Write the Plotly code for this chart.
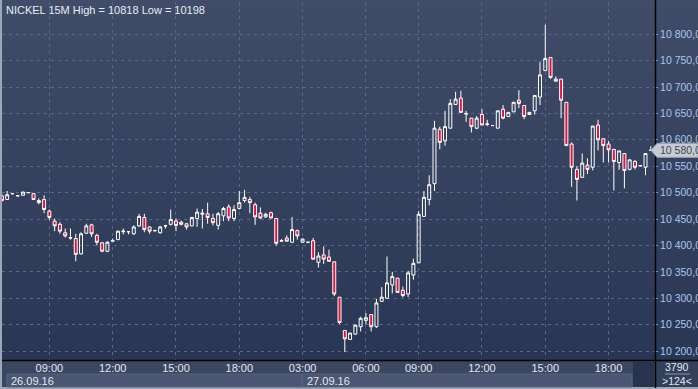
import plotly.graph_objects as go

# ---- data ----
opens = [10494,10487,10498,10494,10495,10500,10498,10485,10487,10465,
         10446,10440,10424,10415,10413,10384,10423,10439,10419,10405,
         10389,10408,10411,10426,10426,10422,10437,10453,10435,10428,
         10424,10437,10440,10446,10444,10441,10437,10451,10459,10460,
         10451,10438,10456,10473,10451,10470,10485,10487,10477,10461,
         10454,10462,10451,10408,10414,10406,10428,10406,10406,10409,
         10368,10382,10378,10369,10302,10239,10222,10232,10246,10258,
         10269,10246,10294,10300,10325,10338,10315,10308,10344,10367,
         10455,10487,10517,10620,10598,10622,10667,10679,10650,10641,
         10622,10648,10629,10627,10622,10658,10644,10653,10675,10665,
         10648,10655,10681,10731,10756,10715,10715,10671,10592,10544,
         10529,10552,10548,10628,10602,10592,10582,10557,10574,10544,
         10559,10551,10548,10580]
highs = [10496,10503,10499,10495,10502,10501,10499,10489,10495,10468,
         10451,10444,10432,10432,10422,10425,10441,10441,10422,10406,
         10408,10413,10428,10432,10427,10438,10460,10460,10436,10430,
         10437,10439,10468,10451,10447,10442,10454,10470,10469,10481,
         10460,10463,10473,10478,10476,10503,10505,10492,10481,10472,
         10462,10464,10451,10412,10419,10454,10430,10413,10407,10414,
         10387,10398,10392,10369,10302,10239,10234,10250,10265,10272,
         10269,10299,10321,10379,10350,10338,10322,10352,10375,10465,
         10503,10533,10636,10625,10655,10677,10691,10693,10655,10641,
         10645,10658,10638,10628,10655,10666,10652,10672,10694,10666,
         10652,10684,10748,10818,10756,10720,10715,10671,10595,10550,
         10574,10565,10626,10638,10602,10598,10582,10579,10574,10563,
         10562,10552,10574,10588]
lows = [10483,10487,10497,10493,10495,10499,10487,10478,10461,10448,
        10427,10422,10415,10411,10370,10383,10422,10416,10400,10387,
        10387,10408,10411,10421,10421,10420,10435,10425,10422,10426,
        10422,10432,10438,10427,10438,10430,10436,10435,10432,10441,
        10438,10430,10446,10446,10446,10468,10481,10461,10439,10450,
        10452,10451,10400,10407,10408,10405,10411,10405,10404,10373,
        10358,10365,10370,10304,10251,10198,10222,10231,10237,10251,
        10237,10244,10294,10299,10309,10311,10302,10302,10335,10367,
        10454,10476,10503,10582,10589,10622,10667,10652,10634,10614,
        10620,10628,10626,10626,10622,10639,10644,10653,10660,10639,
        10648,10648,10666,10731,10715,10711,10641,10589,10511,10485,
        10529,10535,10542,10580,10557,10557,10504,10543,10508,10542,
        10544,10550,10533,10580]
closes = [10485,10496,10498,10494,10501,10500,10487,10481,10468,10453,
          10437,10427,10418,10414,10383,10422,10437,10422,10406,10389,
          10406,10409,10427,10427,10426,10435,10455,10430,10427,10428,
          10435,10437,10449,10438,10440,10435,10453,10463,10461,10453,
          10443,10460,10470,10452,10468,10481,10491,10481,10454,10452,
          10459,10452,10404,10409,10408,10430,10418,10412,10406,10374,
          10380,10374,10370,10308,10254,10223,10234,10249,10262,10263,
          10246,10291,10302,10329,10341,10311,10305,10348,10366,10459,
          10491,10515,10622,10595,10625,10669,10677,10652,10649,10625,
          10641,10628,10630,10627,10655,10641,10652,10671,10669,10644,
          10652,10684,10723,10754,10718,10711,10675,10589,10548,10525,
          10556,10544,10626,10600,10589,10581,10559,10579,10542,10562,
          10548,10551,10574,10580]
bar_index = list(range(len(opens)))

time_tick_index = [9, 21, 33, 45, 57, 69, 79, 91, 103, 115]
time_tick_labels = ["09:00", "12:00", "15:00", "18:00", "03:00",
                    "06:00", "09:00", "12:00", "15:00", "18:00"]
date_labels = ["26.09.16", "27.09.16"]
price_ticks = list(range(10200, 10801, 50))
price_tick_labels = ["10 %03d,00" % (v - 10000) for v in price_ticks]
title_text = "NICKEL 15M High = 10818 Low = 10198"
last_price_label = "10 580,00"
last_price = 10580
corner_top = "3790"
corner_bottom = ">124<"

# ---- geometry helpers (pixels -> paper) ----
W, H = 698, 389
ML, MR, MT, MB = 2, 43, 2, 29
PW, PH = W - ML - MR, H - MT - MB
Y_LO, Y_HI = 10183, 10861


def px(x):
    return (x - ML) / PW


def py(y):
    return (H - MB - y) / PH


def price_to_py(p):
    return MT + (Y_HI - p) / (Y_HI - Y_LO) * PH


FONT = "Liberation Sans, Arial, sans-serif"

fig = go.Figure()
fig.add_trace(go.Candlestick(
    x=bar_index, open=opens, high=highs, low=lows, close=closes,
    increasing=dict(line=dict(color="#ffffff", width=1), fillcolor="rgba(0,0,0,0)"),
    decreasing=dict(line=dict(color="#ffffff", width=1), fillcolor="#e5103a"),
    whiskerwidth=0, hoverinfo="skip", showlegend=False,
))

shapes = []
# vertical gradient background (plot + right axis panel)
N = 40
top = (64, 76, 104)
bot = (42, 55, 84)
for k in range(N):
    y0 = k * 360 / N
    y1 = (k + 1) * 360 / N
    t = (k + 0.5) / N
    c = tuple(round(top[i] + (bot[i] - top[i]) * t) for i in range(3))
    shapes.append(dict(type="rect", xref="paper", yref="paper",
                       x0=px(2), x1=px(W), y0=py(y1), y1=py(y0 - 0.5),
                       fillcolor="rgb(%d,%d,%d)" % c, line=dict(width=0), layer="below"))
# bottom strip
shapes.append(dict(type="rect", xref="paper", yref="paper", x0=px(2), x1=px(655),
                   y0=py(387), y1=py(360), fillcolor="#3b4761", line=dict(width=0), layer="below"))
shapes.append(dict(type="rect", xref="paper", yref="paper", x0=px(7), x1=px(632),
                   y0=py(387), y1=py(374), fillcolor="#4a5672",
                   line=dict(color="#56637e", width=1), layer="below"))
shapes.append(dict(type="line", xref="paper", yref="paper", x0=px(302), x1=px(302),
                   y0=py(387), y1=py(374), line=dict(color="#5e6b86", width=1), layer="below"))
shapes.append(dict(type="rect", xref="paper", yref="paper", x0=px(633), x1=px(654),
                   y0=py(387), y1=py(362), fillcolor="#28344e", line=dict(width=0), layer="below"))
shapes.append(dict(type="rect", xref="paper", yref="paper", x0=px(655), x1=px(W),
                   y0=py(387), y1=py(360), fillcolor="#34405a", line=dict(width=0), layer="below"))
shapes.append(dict(type="line", xref="paper", yref="paper", x0=px(665), x1=px(690),
                   y0=py(374), y1=py(374), line=dict(color="#8a96aa", width=1), layer="below"))
# black frame lines
shapes.append(dict(type="line", xref="paper", yref="paper", x0=px(2), x1=px(W),
                   y0=py(360.5), y1=py(360.5), line=dict(color="#000000", width=1.5)))
shapes.append(dict(type="line", xref="paper", yref="paper", x0=px(655.5), x1=px(655.5),
                   y0=py(388), y1=py(0), line=dict(color="#000000", width=1.5)))
# last-price marker (arrow-shaped tag)
ym = price_to_py(last_price)
path = "M %f,%f L %f,%f L %f,%f L %f,%f L %f,%f Z" % (
    px(651), py(ym), px(657), py(ym - 7), px(W), py(ym - 7),
    px(W), py(ym + 7), px(657), py(ym + 7))
shapes.append(dict(type="path", xref="paper", yref="paper", path=path,
                   fillcolor="#c6cad1", line=dict(color="#9aa0aa", width=1)))

annotations = [
    dict(text=title_text, xref="paper", yref="paper", x=px(4), y=py(2),
         xanchor="left", yanchor="top", showarrow=False,
         font=dict(family=FONT, size=11, color="#e8edf5")),
    dict(text=date_labels[0], xref="paper", yref="paper", x=px(9), y=py(381),
         xanchor="left", yanchor="middle", showarrow=False,
         font=dict(family=FONT, size=11, color="#e2e8f2")),
    dict(text=date_labels[1], xref="paper", yref="paper", x=px(305), y=py(381),
         xanchor="left", yanchor="middle", showarrow=False,
         font=dict(family=FONT, size=11, color="#e2e8f2")),
    dict(text=corner_top, xref="paper", yref="paper", x=px(677), y=py(367),
         xanchor="center", yanchor="middle", showarrow=False,
         font=dict(family=FONT, size=10.5, color="#e2e8f2")),
    dict(text=corner_bottom, xref="paper", yref="paper", x=px(677), y=py(380.5),
         xanchor="center", yanchor="middle", showarrow=False,
         font=dict(family=FONT, size=10.5, color="#e2e8f2")),
    dict(text=last_price_label, xref="paper", yref="y", x=px(659), y=last_price,
         xanchor="left", yanchor="middle", showarrow=False,
         borderpad=0, font=dict(family=FONT, size=10.5, color="#3f4756")),
]

fig.update_layout(
    template="none",
    width=W, height=H,
    margin=dict(l=ML, r=MR, t=MT, b=MB, pad=0),
    paper_bgcolor="#9ca7b8",
    plot_bgcolor="rgba(0,0,0,0)",
    shapes=shapes,
    annotations=annotations,
    showlegend=False,
    boxgap=0.2,
    xaxis=dict(
        range=[0.02, 123.8], rangeslider=dict(visible=False), automargin=False,
        tickvals=time_tick_index, ticktext=time_tick_labels,
        showgrid=True, gridcolor="#5a6889", griddash="3px,4px", gridwidth=1,
        zeroline=False, showline=False, ticks="", ticklen=0,
        tickfont=dict(family=FONT, size=11, color="#e2e8f2"),
    ),
    yaxis=dict(
        range=[Y_LO, Y_HI], side="right", automargin=False,
        tickvals=price_ticks, ticktext=price_tick_labels,
        showgrid=True, gridcolor="#5a6889", griddash="3px,4px", gridwidth=1,
        zeroline=False, showline=False, ticks="outside", ticklen=2,
        tickcolor="#7fa8e0",
        tickfont=dict(family=FONT, size=10.5, color="#a9c6ee"),
    ),
)

fig.write_html("out.html", config={"displayModeBar": False},
               post_script="document.body.style.margin='0';document.body.style.overflow='hidden';")
